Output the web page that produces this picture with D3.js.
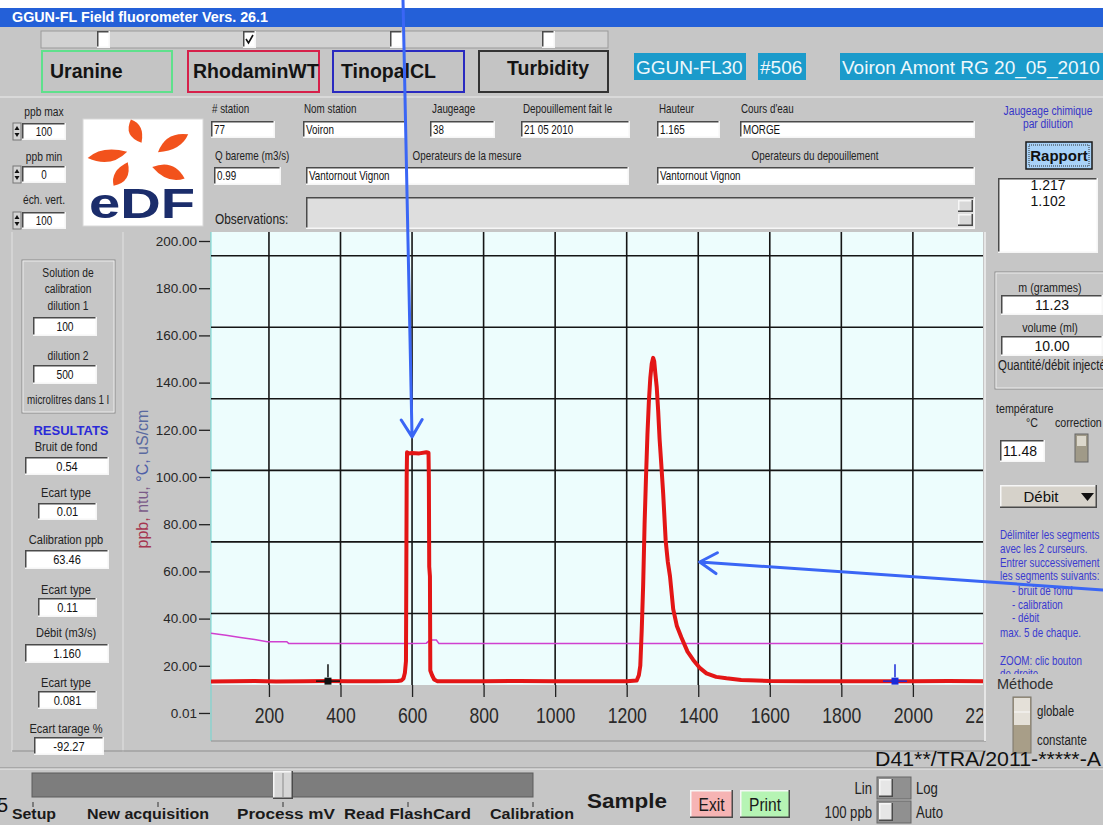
<!DOCTYPE html>
<html>
<head>
<meta charset="utf-8">
<script src="https://cdn.jsdelivr.net/npm/d3@7"></script>
<style>
  body { margin: 0; background: #c6c6c6; overflow: hidden; }
  svg { display: block; }
</style>
</head>
<body>
<svg id="app"></svg>
<script>
// Taille de la fenêtre
let width = 1103;
let height = 825;
const ARIAL = "'Liberation Sans', Arial, sans-serif";
const NARROW_SCALE = 0.82; // Arial Narrow simulé

// ---- Données du graphique ----
let xDomain = [38, 2196];
let yDomain = [0, 200];
let xTicks = [200, 400, 600, 800, 1000, 1200, 1400, 1600, 1800, 2000, 2200];
let yTicks = [0.01, 20, 40, 60, 80, 100, 120, 140, 160, 180, 200];

// Rhodamine WT (ppb), courbe rouge
let rhodX = [38, 100, 160, 220, 300, 360, 420, 500, 560, 570, 576, 580, 583, 584, 585, 586, 590, 600, 620, 640, 646, 647, 648, 650, 651, 656, 662, 670,
  800, 900, 1000, 1100, 1200, 1228, 1234, 1238, 1242, 1246, 1250, 1254, 1258, 1262, 1266, 1270, 1274, 1277, 1280, 1284, 1288, 1292, 1296, 1302, 1309,
  1315, 1321, 1330, 1340, 1353, 1370, 1386, 1405, 1423, 1450, 1479, 1520, 1600, 1700, 1800, 1900, 2000, 2100, 2196];
let rhodY = [13.4, 13.5, 13.6, 13.4, 13.5, 13.6, 13.5, 13.5, 13.6, 13.8, 14.6, 17, 22, 60, 100, 110.5, 110, 110.2, 110, 110.5, 110.3, 100, 62, 58, 18, 16, 14.2, 13.5,
  13.5, 13.6, 13.5, 13.5, 13.5, 13.8, 16, 20, 35, 54, 80, 100, 118, 132, 142, 148, 150.5, 149, 144, 138, 128, 116, 107, 93, 73,
  64, 58, 44, 37, 32, 26, 22.5, 19, 16.8, 15.3, 14.7, 14, 13.6, 13.5, 13.5, 13.5, 13.5, 13.6, 13.5];

// Température (courbe magenta)
let tempX = [38, 80, 120, 160, 195, 250, 255, 600, 640, 650, 668, 675, 2196];
let tempY = [33.8, 32.9, 32.0, 31.1, 30.2, 30.2, 29.5, 29.5, 29.6, 30.9, 30.9, 29.5, 29.5];

// Curseurs de segment
let cursorX = [365, 1950];
let cursorColors = ["#111111", "#1a2ad8"];

// Flèches d'annotation (pointe en coordonnées du graphique)
let arrowTips = [[600, 117], [1404, 64]];

// Libellés de la barre du bas
let stepLabels = ["Setup", "New acquisition", "Process mV", "Read FlashCard", "Calibration"];

let svg = d3.select("#app").attr("width", width).attr("height", height);

// ---- petites fonctions ----
// sans o.font : police étroite (Arial comprimé horizontalement)
let label = (x, y, s, o = {}) => {
  let t = (o.parent || svg).append("text")
    .attr("font-family", o.font || ARIAL)
    .attr("font-size", o.size || 12)
    .attr("font-weight", o.weight || "normal")
    .attr("fill", o.color || "#222")
    .attr("text-anchor", o.anchor || "start")
    .text(s);
  if (o.font) t.attr("x", x).attr("y", y);
  else t.attr("transform", `translate(${x},${y}) scale(${NARROW_SCALE},1)`);
  return t;
};

let bevel = (x, y, w, h, fill, sunken) => {
  let dark = "#4a4a4a", light = "#f6f6f6";
  svg.append("rect").attr("x", x).attr("y", y).attr("width", w).attr("height", h).attr("fill", fill);
  svg.append("path").attr("d", `M${x + 0.75},${y + h} V${y + 0.75} H${x + w}`)
    .attr("fill", "none").attr("stroke", sunken ? dark : light).attr("stroke-width", 1.5);
  svg.append("path").attr("d", `M${x},${y + h - 0.75} H${x + w - 0.75} V${y}`)
    .attr("fill", "none").attr("stroke", sunken ? light : dark).attr("stroke-width", 1.5);
};

let field = (x, y, w, h, value, o = {}) => {
  bevel(x, y, w, h, o.fill || "#ffffff", true);
  let anchor = o.anchor || "middle";
  let size = o.size || 12;
  let tx = anchor === "middle" ? x + w / 2 : x + 3;
  label(tx, y + h / 2 + size * 0.36, value, { anchor, size, font: o.font, color: "#111" });
};

let frame = (x, y, w, h) => {
  svg.append("rect").attr("x", x).attr("y", y).attr("width", w).attr("height", h)
    .attr("fill", "none").attr("stroke", "#8a8a8a").attr("stroke-width", 1);
  svg.append("rect").attr("x", x + 1).attr("y", y + 1).attr("width", w - 2).attr("height", h - 2)
    .attr("fill", "none").attr("stroke", "#ececec").attr("stroke-width", 1);
};

let spinner = (x, y) => {
  svg.append("rect").attr("x", x).attr("y", y).attr("width", 8).attr("height", 17).attr("fill", "#d4d4d4").attr("stroke", "#777");
  svg.append("path").attr("d", `M${x + 1.5},${y + 7} L${x + 4},${y + 3} L${x + 6.5},${y + 7} Z M${x + 1.5},${y + 10} L${x + 4},${y + 14} L${x + 6.5},${y + 10} Z`).attr("fill", "#111");
};

// ---- fond et barre de titre ----
svg.append("rect").attr("width", width).attr("height", height).attr("fill", "#c6c6c6");
svg.append("rect").attr("width", width).attr("height", 8).attr("fill", "#ffffff");
svg.append("rect").attr("y", 8).attr("width", width).attr("height", 19).attr("fill", "#2460d8");
label(12, 22, "GGUN-FL Field fluorometer Vers. 26.1", { font: ARIAL, size: 14, weight: "bold", color: "#ffffff" })
  .attr("textLength", 256).attr("lengthAdjust", "spacingAndGlyphs");

// cases à cocher
svg.append("rect").attr("x", 41).attr("y", 31).attr("width", 567).attr("height", 17)
  .attr("fill", "#d2d2d2").attr("stroke", "#9a9a9a");
[97, 243, 390, 542].forEach((cx, i) => {
  bevel(cx, 31, 13, 17, "#ffffff", true);
  if (i === 1) svg.append("path").attr("d", `M${cx + 3},${39} L${cx + 5.5},${43} L${cx + 10},${35}`)
    .attr("fill", "none").attr("stroke", "#111").attr("stroke-width", 1.6);
});

// boutons traceurs
let tracerButtons = [
  { x: 42, w: 130, name: "Uranine", c: "#5fe08c", tx: 50, ty: 78, anchor: "start" },
  { x: 188, w: 131, name: "RhodaminWT", c: "#d6204a", tx: 193, ty: 78, anchor: "start" },
  { x: 333, w: 131, name: "TinopalCL", c: "#2a2ac0", tx: 341, ty: 78, anchor: "start" },
  { x: 479, w: 129, name: "Turbidity", c: "#333333", tx: 548, ty: 75, anchor: "middle" }
];
tracerButtons.forEach(b => {
  svg.append("rect").attr("x", b.x).attr("y", 51).attr("width", b.w).attr("height", 41)
    .attr("fill", "#c4c4c4").attr("stroke", b.c).attr("stroke-width", 2);
  label(b.tx, b.ty, b.name, { font: ARIAL, size: 19.5, weight: "bold", color: "#141414", anchor: b.anchor });
});

// étiquettes cyan
[[634, 112, "GGUN-FL30"], [758, 48, "#506"], [840, 270, "Voiron Amont RG 20_05_2010"]].forEach(([x, w, s]) => {
  svg.append("rect").attr("x", x).attr("y", 53).attr("width", w).attr("height", 27).attr("fill", "#1b9bcb");
  label(x + 2, 74, s, { font: ARIAL, size: 19, color: "#eef8fc" });
});
svg.append("line").attr("x1", 0).attr("x2", width).attr("y1", 97).attr("y2", 97).attr("stroke", "#ececec");

// ---- échelle ppb ----
label(44, 116, "ppb max", { anchor: "middle", size: 12.5 });
spinner(13, 123); field(22, 123, 44, 17, "100");
label(44, 161, "ppb min", { anchor: "middle", size: 12.5 });
spinner(13, 166); field(22, 166, 44, 17, "0");
label(44, 204, "éch. vert.", { anchor: "middle", size: 12.5 });
spinner(13, 212); field(22, 212, 44, 17, "100");

// ---- logo EDF ----
svg.append("rect").attr("x", 83).attr("y", 119).attr("width", 120).attr("height", 107).attr("fill", "#ffffff")
  .attr("stroke", "#d8d8d8");
let petals = [[-94, 12, 36, 12], [-16, 18, 52, 12], [36, 17, 50, 13], [140, 14, 40, 12], [184, 13, 52, 12]];
let logo = svg.append("g").attr("transform", "translate(140,155)");
petals.forEach(([a, r0, r1, w]) => {
  let m = (r0 + r1) / 2;
  logo.append("path")
    .attr("d", `M${r0},${w * 0.2} Q${m - 4},${-w * 1.3} ${r1},${-w * 0.55} Q${m + 6},${w * 0.6} ${r0},${w * 0.2} Z`)
    .attr("transform", `rotate(${a})`)
    .attr("fill", "#f2521c");
});
svg.append("text").attr("x", 89).attr("y", 218).attr("font-family", ARIAL).attr("font-weight", "bold")
  .attr("font-size", 42).attr("fill", "#1b2d6b").attr("textLength", 106).attr("lengthAdjust", "spacingAndGlyphs").text("eDF");

// ---- formulaire ----
label(212, 113, "# station"); field(211, 121, 64, 17, "77", { anchor: "start" });
label(304, 113, "Nom station"); field(303, 121, 103, 17, "Voiron", { anchor: "start" });
label(432, 113, "Jaugeage"); field(430, 121, 65, 17, "38", { anchor: "start" });
label(523, 113, "Depouillement fait le"); field(521, 121, 109, 17, "21 05 2010", { anchor: "start" });
label(659, 113, "Hauteur"); field(657, 121, 63, 17, "1.165", { anchor: "start" });
label(741, 113, "Cours d'eau"); field(740, 121, 235, 17, "MORGE", { anchor: "start" });
label(215, 160, "Q bareme (m3/s)"); field(214, 167, 67, 18, "0.99", { anchor: "start" });
label(467, 160, "Operateurs de la mesure", { anchor: "middle" }); field(306, 167, 323, 18, "Vantornout Vignon", { anchor: "start" });
label(815, 160, "Operateurs du depouillement", { anchor: "middle" }); field(657, 167, 318, 18, "Vantornout Vignon", { anchor: "start" });
label(215, 224, "Observations:", { size: 14.5 });
bevel(306, 197, 669, 32, "#dedede", true);
bevel(958, 200, 15, 12, "#d8d8d8", false);
bevel(958, 214, 15, 12, "#d8d8d8", false);

// jaugeage chimique
label(1048, 115, "Jaugeage chimique", { anchor: "middle", color: "#3535c8", size: 12.5 });
label(1048, 128, "par dilution", { anchor: "middle", color: "#3535c8", size: 12.5 });
svg.append("rect").attr("x", 1026).attr("y", 142).attr("width", 66).attr("height", 27)
  .attr("fill", "#a8d2f8").attr("stroke", "#1a1a1a").attr("stroke-width", 1.5);
svg.append("rect").attr("x", 1029).attr("y", 145).attr("width", 60).attr("height", 21)
  .attr("fill", "none").attr("stroke", "#333").attr("stroke-dasharray", "1,1");
label(1059, 161, "Rapport", { font: ARIAL, size: 15, weight: "bold", anchor: "middle", color: "#111" });
bevel(998, 178, 100, 75, "#ffffff", true);
label(1048, 190, "1.217", { font: ARIAL, size: 14, anchor: "middle", color: "#111" });
label(1048, 206, "1.102", { font: ARIAL, size: 14, anchor: "middle", color: "#111" });

// ---- panneau gauche ----
svg.append("line").attr("x1", 12).attr("x2", 12).attr("y1", 232).attr("y2", 752).attr("stroke", "#e2e2e2");
svg.append("line").attr("x1", 123).attr("x2", 123).attr("y1", 232).attr("y2", 752).attr("stroke", "#e2e2e2");
svg.append("line").attr("x1", 12).attr("x2", 986).attr("y1", 751).attr("y2", 751).attr("stroke", "#8e8e8e");
frame(22, 260, 93, 153);
label(68, 277, "Solution de", { anchor: "middle", size: 12.5 });
label(68, 293, "calibration", { anchor: "middle", size: 12.5 });
label(68, 310, "dilution 1", { anchor: "middle", size: 12.5 });
field(33, 317, 64, 19, "100", { size: 12.5 });
label(68, 360, "dilution 2", { anchor: "middle", size: 12.5 });
field(33, 365, 64, 19, "500", { size: 12.5 });
label(68, 404, "microlitres dans 1 l", { anchor: "middle", size: 12 });
label(71, 435, "RESULTATS", { font: ARIAL, size: 13, weight: "bold", anchor: "middle", color: "#2a2ad8" });
let results = [
  ["Bruit de fond", 451, 25, 457, 84, 18, "0.54"],
  ["Ecart type", 497, 38, 503, 59, 17, "0.01"],
  ["Calibration ppb", 544, 25, 550, 84, 19, "63.46"],
  ["Ecart type", 594, 38, 598, 59, 19, "0.11"],
  ["Débit (m3/s)", 637, 25, 644, 84, 19, "1.160"],
  ["Ecart type", 687, 38, 691, 59, 18, "0.081"],
  ["Ecart tarage %", 733, 34, 737, 70, 18, "-92.27"]
];
results.forEach(([t, ty, fx, fy, fw, fh, v]) => {
  label(66, ty, t, { anchor: "middle", size: 13.5 });
  field(fx, fy, fw, fh, v, { size: 13.5 });
});

// ---- graphique ----
let plotLeft = 211, plotRight = 983, plotTop = 232, plotBottom = 685;
let x = d3.scaleLinear().domain(xDomain).range([plotLeft, plotRight]);
let y = d3.scaleLinear().domain(yDomain).range([713, 241]);

let defs = svg.append("defs");
defs.append("clipPath").attr("id", "plotClip")
  .append("rect").attr("x", plotLeft).attr("y", plotTop).attr("width", plotRight - plotLeft).attr("height", plotBottom - plotTop);
defs.append("clipPath").attr("id", "axisClip")
  .append("rect").attr("x", 0).attr("y", 0).attr("width", plotRight).attr("height", height);
defs.append("clipPath").attr("id", "helpClip")
  .append("rect").attr("x", 990).attr("y", 520).attr("width", 113).attr("height", 154);

svg.append("rect").attr("x", plotLeft).attr("y", plotTop).attr("width", plotRight - plotLeft).attr("height", plotBottom - plotTop)
  .attr("fill", "#edfdfd");
svg.append("line").attr("x1", plotLeft).attr("x2", plotLeft).attr("y1", plotTop).attr("y2", 741).attr("stroke", "#6fd8d2");
svg.append("line").attr("x1", plotLeft).attr("x2", 986).attr("y1", 741).attr("y2", 741).attr("stroke", "#8e8e8e");
svg.append("line").attr("x1", 985).attr("x2", 985).attr("y1", plotTop).attr("y2", 741).attr("stroke", "#e6e6e6").attr("stroke-width", 2);

// grille : carrée, depuis le bas du tracé
let grid = svg.append("g").attr("clip-path", "url(#plotClip)");
let step = x(400) - x(200);
grid.selectAll("line.v").data(xTicks.filter(d => x(d) < plotRight)).join("line")
  .attr("x1", d => x(d)).attr("x2", d => x(d)).attr("y1", plotTop).attr("y2", plotBottom)
  .attr("stroke", "#151515").attr("stroke-width", 1.6);
grid.selectAll("line.h").data(d3.range(plotBottom - step, plotTop, -step)).join("line")
  .attr("x1", plotLeft).attr("x2", plotRight).attr("y1", d => d).attr("y2", d => d)
  .attr("stroke", "#151515").attr("stroke-width", 1.6);

// courbes
let line = d3.line().x(d => x(d[0])).y(d => y(d[1]));
let curves = svg.append("g").attr("clip-path", "url(#plotClip)");
curves.append("path").attr("d", line(d3.zip(tempX, tempY)))
  .attr("fill", "none").attr("stroke", "#d040d0").attr("stroke-width", 1.5);
curves.append("path").attr("d", line(d3.zip(rhodX, rhodY)))
  .attr("fill", "none").attr("stroke", "#e31616").attr("stroke-width", 4).attr("stroke-linejoin", "round");

// curseurs
cursorX.forEach((cx, i) => {
  let px = x(cx), py = y(13.5);
  curves.append("line").attr("x1", px).attr("x2", px).attr("y1", py - 17).attr("y2", py - 4)
    .attr("stroke", cursorColors[i]).attr("stroke-width", 1.5);
  curves.append("line").attr("x1", px - 12).attr("x2", px + 12).attr("y1", py).attr("y2", py)
    .attr("stroke", cursorColors[i]).attr("stroke-width", 1.5);
  curves.append("rect").attr("x", px - 3.5).attr("y", py - 3.5).attr("width", 7).attr("height", 7).attr("fill", cursorColors[i]);
});

// axes
svg.append("g").attr("transform", `translate(0,${plotBottom})`).attr("clip-path", "url(#axisClip)")
  .call(d3.axisBottom(x).tickValues(xTicks).tickSize(12).tickPadding(10).tickFormat(d3.format("d")))
  .call(g => g.select(".domain").remove())
  .call(g => g.selectAll("line").attr("stroke", "#222").attr("stroke-width", 1.3))
  .call(g => g.selectAll("text").attr("font-family", ARIAL).attr("font-size", 22).attr("fill", "#2a2a2a")
    .attr("transform", "scale(0.8,1)"));

svg.append("g").attr("transform", `translate(${plotLeft - 1},0)`)
  .call(d3.axisLeft(y).tickValues(yTicks).tickSize(11).tickPadding(2).tickFormat(d => d.toFixed(2)))
  .call(g => g.select(".domain").remove())
  .call(g => g.selectAll("line").attr("stroke", "#222").attr("stroke-width", 1.3))
  .call(g => g.selectAll("text").attr("font-family", ARIAL).attr("font-size", 13.5).attr("fill", "#262626"));

let yTitle = svg.append("text").attr("transform", "translate(148,479) rotate(-90)")
  .attr("text-anchor", "middle").attr("font-family", ARIAL).attr("font-size", 16);
[["ppb,", "#a5354f"], [" ntu,", "#7a5a88"], [" °C,", "#5060a8"], [" uS/cm", "#5a6aa0"]].forEach(([s, c]) => {
  yTitle.append("tspan").attr("fill", c).text(s);
});

// ---- panneau droit ----
frame(995, 272, 110, 117);
label(1050, 292, "m (grammes)", { anchor: "middle", size: 13 });
field(1001, 295, 102, 20, "11.23", { size: 14, font: ARIAL });
label(1050, 332, "volume (ml)", { anchor: "middle", size: 13 });
field(1001, 336, 102, 20, "10.00", { size: 14, font: ARIAL });
label(998, 370, "Quantité/débit injecté", { size: 14 });
label(996, 413, "température", { size: 13 });
label(1026, 427, "°C", { size: 13 });
label(1055, 427, "correction", { size: 13 });
field(1000, 440, 45, 22, "11.48", { size: 14, font: ARIAL, anchor: "start" });
svg.append("rect").attr("x", 1075).attr("y", 434).attr("width", 13).attr("height", 28).attr("fill", "#a09a88").attr("stroke", "#666");
svg.append("rect").attr("x", 1077).attr("y", 436).attr("width", 9).attr("height", 10).attr("fill", "#dcd8cc");
bevel(1000, 485, 97, 23, "#d6d2ca", false);
label(1041, 502, "Débit", { font: ARIAL, size: 15, anchor: "middle", color: "#111" });
svg.append("path").attr("d", "M1081,493 L1094,493 L1087.5,501 Z").attr("fill", "#111");

let help = [
  [1000, 539, "Délimiter les segments"],
  [1000, 553, "avec les 2 curseurs."],
  [1000, 567, "Entrer successivement"],
  [1000, 580, "les segments suivants:"],
  [1012, 595, "-  bruit de fond"],
  [1012, 609, "-  calibration"],
  [1012, 622, "-  débit"],
  [1000, 637, "max. 5 de chaque."],
  [1000, 665, "ZOOM: clic bouton"],
  [1000, 678, "de droite"]
];
let helpG = svg.append("g").attr("clip-path", "url(#helpClip)");
help.forEach(([hx, hy, s]) => label(hx, hy, s, { parent: helpG, size: 12, color: "#3a3ad0" }));
label(997, 689, "Méthode", { font: ARIAL, size: 14.5, color: "#303030" });
svg.append("rect").attr("x", 1013).attr("y", 697).attr("width", 18).attr("height", 56).attr("fill", "#a89e88").attr("stroke", "#7a7468");
svg.append("rect").attr("x", 1014).attr("y", 698).attr("width", 16).attr("height", 27).attr("fill", "#e4e0d8");
svg.append("line").attr("x1", 1014).attr("x2", 1030).attr("y1", 712).attr("y2", 712).attr("stroke", "#fafafa");
label(1037, 716, "globale", { size: 14 });
label(1037, 745, "constante", { size: 14 });

svg.append("text").attr("x", 875).attr("y", 766).attr("font-family", ARIAL).attr("font-size", 21).attr("fill", "#111")
  .attr("textLength", 226).attr("lengthAdjust", "spacingAndGlyphs").text("D41**/TRA/2011-*****-A");

// ---- barre du bas ----
svg.append("line").attr("x1", 0).attr("x2", width).attr("y1", 768).attr("y2", 768).attr("stroke", "#8a8a8a");
svg.append("line").attr("x1", 0).attr("x2", width).attr("y1", 769).attr("y2", 769).attr("stroke", "#eaeaea");
svg.append("rect").attr("x", 32).attr("y", 773).attr("width", 501).attr("height", 24).attr("fill", "#7d7d7d").attr("stroke", "#5c5c5c");
bevel(273, 771, 20, 28, "#d6d6d6", false);
svg.append("line").attr("x1", 283).attr("x2", 283).attr("y1", 773).attr("y2", 797).attr("stroke", "#8a8a8a");
let stepX = d3.scalePoint().domain(stepLabels).range([33, 533]);
let stepText = [[12, 44], [87, 122], [237, 98], [344, 127], [490, 84]];
stepLabels.forEach((s, i) => {
  svg.append("line").attr("x1", stepX(s)).attr("x2", stepX(s)).attr("y1", 802).attr("y2", 807).attr("stroke", "#333");
  label(stepText[i][0], 819, s, { font: ARIAL, size: 14, weight: "bold", color: "#1a1a1a" })
    .attr("textLength", stepText[i][1]).attr("lengthAdjust", "spacingAndGlyphs");
});
label(587, 808, "Sample", { font: ARIAL, size: 20, weight: "bold", color: "#1a1a1a" })
  .attr("textLength", 80).attr("lengthAdjust", "spacingAndGlyphs");
bevel(690, 790, 43, 28, "#f6b4b4", false);
label(711.5, 811, "Exit", { size: 19, anchor: "middle", color: "#1a1a1a" });
bevel(740, 790, 50, 28, "#b6f4b4", false);
label(765, 811, "Print", { size: 19, anchor: "middle", color: "#1a1a1a" });
[[777, "Lin", "Log"], [801, "100 ppb", "Auto"]].forEach(([ty, a, b]) => {
  svg.append("rect").attr("x", 877).attr("y", ty).attr("width", 34).attr("height", 22).attr("fill", "#909090").attr("stroke", "#666");
  bevel(879, ty + 2, 14, 18, "#e6e6e6", false);
  label(872, ty + 17, a, { size: 16, anchor: "end" });
  label(916, ty + 17, b, { size: 16 });
});
label(-3, 812, "5", { font: ARIAL, size: 20, color: "#111" });

// ---- flèches d'annotation ----
let arrows = [
  { from: [403, 0], to: [x(arrowTips[0][0]), y(arrowTips[0][1])] },
  { from: [1103, 590], to: [x(arrowTips[1][0]), y(arrowTips[1][1])] }
];
arrows.forEach(a => {
  let [x0, y0] = a.from, [x1, y1] = a.to;
  let ang = Math.atan2(y1 - y0, x1 - x0);
  let head = (da) => [x1 - 20 * Math.cos(ang + da), y1 - 20 * Math.sin(ang + da)];
  let h1 = head(0.55), h2 = head(-0.55);
  svg.append("path").attr("d", `M${x0},${y0} L${x1},${y1} M${h1[0]},${h1[1]} L${x1},${y1} L${h2[0]},${h2[1]}`)
    .attr("fill", "none").attr("stroke", "#3a66f5").attr("stroke-width", 3).attr("stroke-linecap", "round").attr("stroke-linejoin", "round");
});
</script>
</body>
</html>
